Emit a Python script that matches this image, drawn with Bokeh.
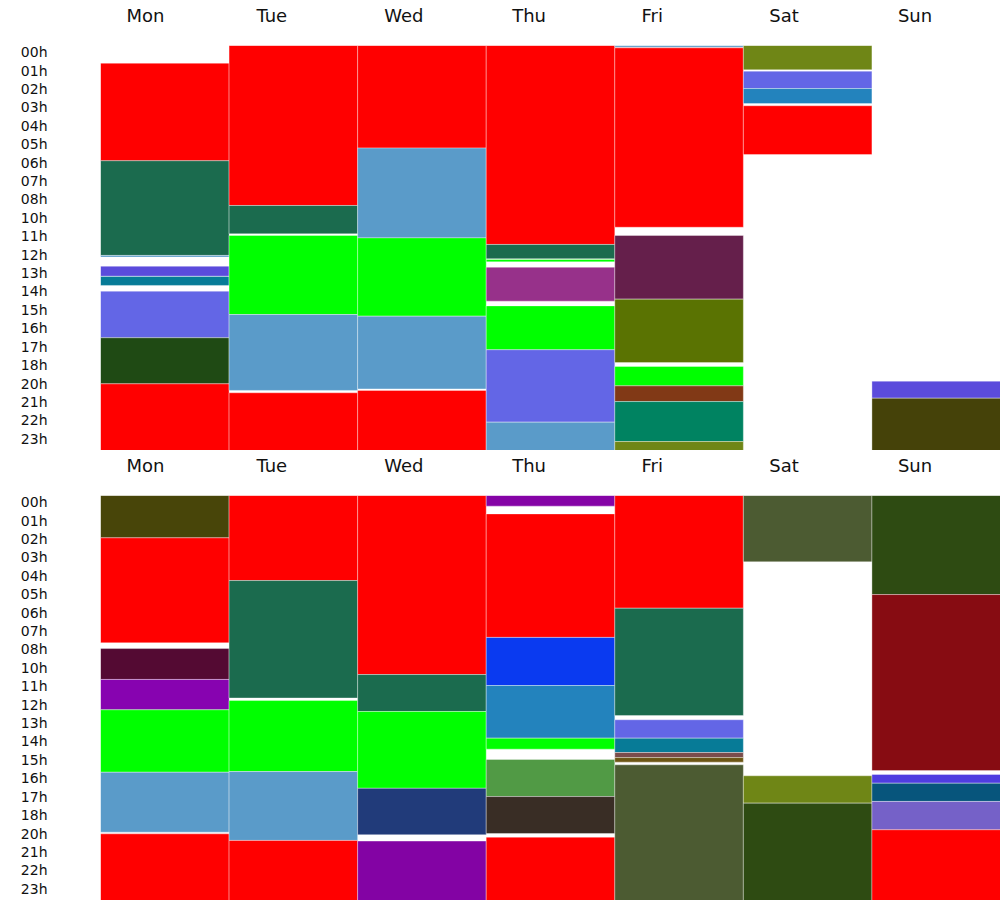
from bokeh.plotting import figure
from bokeh.layouts import column
from bokeh.models import (Range1d, LinearAxis, FixedTicker, CustomJSTickFormatter, ColumnDataSource)
from bokeh.embed import file_html
from bokeh.resources import INLINE

days = ["Mon", "Tue", "Wed", "Thu", "Fri", "Sat", "Sun"]
hour_labels = ["00h", "01h", "02h", "03h", "04h", "05h", "06h", "07h", "08h",
               "10h", "11h", "12h", "13h", "14h", "15h", "16h", "17h", "18h",
               "20h", "21h", "22h", "23h"]

# ---- top panel: day index, start hour, end hour, colour
top_day = [0, 0, 0, 0, 0, 0, 0, 0,
           1, 1, 1, 1, 1,
           2, 2, 2, 2, 2,
           3, 3, 3, 3, 3, 3, 3,
           4, 4, 4, 4, 4, 4, 4, 4,
           5, 5, 5, 5,
           6, 6]
top_start = [1.05, 6.83, 12.44, 13.08, 13.69, 14.56, 17.32, 20.05,
             0.0, 9.48, 11.26, 15.94, 20.58,
             0.0, 6.08, 11.40, 16.04, 20.44,
             0.0, 11.79, 12.68, 13.14, 15.43, 18.03, 22.32,
             0.0, 0.14, 11.26, 15.03, 19.02, 20.17, 21.10, 23.47,
             0.0, 1.52, 2.55, 3.57,
             19.89, 20.90]
top_end = [6.83, 12.44, 12.54, 13.67, 14.22, 17.32, 20.05, 24.0,
           9.48, 11.16, 15.94, 20.44, 24.0,
           6.08, 11.40, 16.04, 20.35, 24.0,
           11.79, 12.64, 12.82, 15.15, 18.03, 22.32, 24.0,
           0.10, 10.77, 15.03, 18.79, 20.17, 21.10, 23.47, 24.0,
           1.44, 2.55, 3.44, 6.46,
           20.90, 24.0]
top_color = ["#ff0000", "#1b6b4e", "#5a9bc9", "#5b4bdc", "#077b97", "#6366e6", "#1f4a14", "#ff0000",
             "#ff0000", "#1b6b4e", "#00ff00", "#5a9bc9", "#ff0000",
             "#ff0000", "#5a9bc9", "#00ff00", "#5a9bc9", "#ff0000",
             "#ff0000", "#1b6b4e", "#00ff00", "#97318a", "#00ff00", "#6366e6", "#5a9bc9",
             "#5a9bc9", "#ff0000", "#651f4b", "#5a7302", "#00ff00", "#813916", "#008361", "#6f8616",
             "#6f8616", "#6366e6", "#2383bd", "#ff0000",
             "#5b4bdc", "#454209"]

# ---- bottom panel
bot_day = [0, 0, 0, 0, 0, 0, 0,
           1, 1, 1, 1, 1,
           2, 2, 2, 2, 2,
           3, 3, 3, 3, 3, 3, 3, 3,
           4, 4, 4, 4, 4, 4, 4,
           5, 5, 5,
           6, 6, 6, 6, 6, 6]
bot_start = [0.0, 2.51, 9.07, 10.90, 12.70, 16.40, 20.05,
             0.0, 5.04, 12.15, 16.36, 20.44,
             0.0, 10.61, 12.80, 17.35, 20.48,
             0.0, 1.09, 8.41, 11.26, 14.38, 15.64, 17.84, 20.25,
             0.0, 6.68, 13.29, 14.38, 15.23, 15.53, 15.96,
             0.0, 16.61, 18.23,
             0.0, 5.87, 16.53, 17.05, 18.13, 19.81]
bot_end = [2.51, 8.73, 10.90, 12.70, 16.40, 19.95, 24.0,
           5.04, 12.00, 16.36, 20.44, 24.0,
           10.61, 12.80, 17.35, 20.10, 24.0,
           0.63, 8.41, 11.26, 14.38, 15.03, 17.84, 20.03, 24.0,
           6.68, 13.04, 14.38, 15.23, 15.53, 15.80, 24.0,
           3.93, 18.23, 24.0,
           5.87, 16.30, 17.05, 18.13, 19.81, 24.0]
bot_color = ["#484509", "#ff0000", "#540a33", "#8703b0", "#00ff00", "#5a9bc9", "#ff0000",
             "#ff0000", "#1b6b4e", "#00ff00", "#5a9bc9", "#ff0000",
             "#ff0000", "#1b6b4e", "#00ff00", "#213b7a", "#8303a4",
             "#8503a6", "#ff0000", "#0a3af0", "#2383bd", "#00ff00", "#519a45", "#392d25", "#ff0000",
             "#ff0000", "#1b6b4e", "#6366e6", "#077b97", "#7b4d4c", "#6c5614", "#4c5b32",
             "#4c5b32", "#6f8616", "#2e4b12",
             "#2e4b12", "#870c12", "#4f3de0", "#07557c", "#7561c8", "#ff0000"]

FONT = "DejaVu Sans"
N = len(hour_labels)
DAY_FONT_PX = 18
COL_PX = 900 / 7
# DejaVu Sans advance widths (em) used to emulate left-aligned day labels
ADV = {"M": .863, "o": .612, "n": .634, "T": .611, "u": .634, "e": .615, "W": .989,
       "d": .635, "h": .634, "F": .575, "r": .411, "i": .278, "S": .635, "a": .613, "t": .392}


def text_px(s):
    return sum(ADV.get(c, .6) for c in s) * DAY_FONT_PX


day_ticks = [i + (26 + text_px(d) / 2) / COL_PX for i, d in enumerate(days)]


def make_panel(day, start, end, color):
    p = figure(width=1000, height=450, output_backend="svg", toolbar_location=None,
               x_range=Range1d(0, 7), y_range=Range1d(24, 0),
               x_axis_location=None, y_axis_location=None,
               min_border_left=100, min_border_right=0,
               min_border_top=45, min_border_bottom=0)
    p.outline_line_color = None
    p.xgrid.visible = False
    p.ygrid.visible = False
    p.background_fill_color = "white"
    p.border_fill_color = "white"

    src = ColumnDataSource(dict(
        left=day, right=[d + 1 for d in day], top=start, bottom=end, color=color))
    p.quad(left="left", right="right", top="top", bottom="bottom", source=src,
           fill_color="color", line_color="white", line_alpha=0.35, line_width=1)

    yax = LinearAxis(ticker=FixedTicker(ticks=[(i + 0.5) * 24 / N - 0.15 for i in range(N)]),
                     formatter=CustomJSTickFormatter(
                         args=dict(labels=hour_labels, n=N),
                         code="return labels[Math.round((tick + 0.15) * n / 24 - 0.5)]"))
    yax.axis_line_color = None
    yax.major_tick_line_color = None
    yax.minor_tick_line_color = None
    yax.major_tick_out = 0
    yax.major_tick_in = 0
    yax.major_label_standoff = 53
    yax.major_label_text_font = FONT
    yax.major_label_text_font_size = "14px"
    yax.major_label_text_color = "#111111"
    p.add_layout(yax, "left")

    xax = LinearAxis(ticker=FixedTicker(ticks=day_ticks),
                     formatter=CustomJSTickFormatter(args=dict(days=days),
                                                     code="return days[Math.floor(tick)]"))
    xax.axis_line_color = None
    xax.major_tick_line_color = None
    xax.major_tick_out = 0
    xax.major_tick_in = 0
    xax.minor_tick_line_color = None
    xax.major_label_standoff = 20
    xax.major_label_text_font = FONT
    xax.major_label_text_font_size = f"{DAY_FONT_PX}px"
    xax.major_label_text_color = "#111111"
    p.add_layout(xax, "above")
    return p


p1 = make_panel(top_day, top_start, top_end, top_color)
p2 = make_panel(bot_day, bot_start, bot_end, bot_color)
layout = column(p1, p2, spacing=0)

open("out.html", "w").write(file_html(layout, INLINE))
